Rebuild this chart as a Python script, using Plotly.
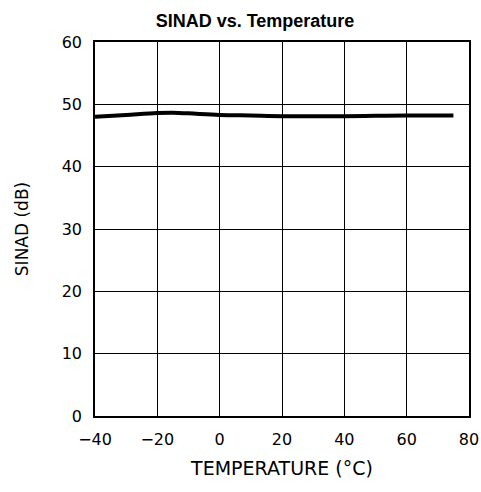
import plotly.graph_objects as go

temp_c = [-40, -30, -20, -15, -10, 0, 10, 20, 30, 40, 50, 60, 75]
sinad_db = [48.0, 48.3, 48.6, 48.65, 48.55, 48.3, 48.2, 48.1, 48.1, 48.1, 48.15, 48.2, 48.2]

x_ticks = [-40, -20, 0, 20, 40, 60, 80]
y_ticks = [0, 10, 20, 30, 40, 50, 60]

fig = go.Figure()
fig.add_trace(go.Scatter(x=temp_c, y=sinad_db, mode="lines",
                         line=dict(color="black", width=4, shape="spline"),
                         showlegend=False))

fig.update_layout(
    width=481, height=492,
    margin=dict(l=95, r=12, t=42, b=76, autoexpand=False),
    paper_bgcolor="white", plot_bgcolor="white",
    title=dict(text="<b>SINAD vs. Temperature</b>", x=255/481, xanchor="center",
               xref="container", y=1 - 21/492, yanchor="middle",
               font=dict(family="Liberation Sans, Arial", size=18, color="black")),
    font=dict(family="DejaVu Sans", size=16, color="black"),
)
fig.update_xaxes(range=[-40, 80], tickvals=x_ticks, ticks="outside", ticklen=8,
                 tickcolor="white", showgrid=True, automargin=False,
                 gridcolor="black", gridwidth=1.3, showline=True, linecolor="black",
                 linewidth=1.5, mirror=True, zeroline=False,
                 tickfont=dict(family="DejaVu Sans", size=16),
                 title=dict(text="TEMPERATURE (°C)", standoff=14,
                            font=dict(family="DejaVu Sans", size=19)))
fig.update_yaxes(range=[0, 60], tickvals=y_ticks, ticks="outside", ticklen=8,
                 tickcolor="white", showgrid=True, automargin=False,
                 gridcolor="black", gridwidth=1.3, showline=True, linecolor="black",
                 linewidth=1.5, mirror=True, zeroline=False,
                 tickfont=dict(family="DejaVu Sans", size=16),
                 title=dict(text="SINAD (dB)", standoff=29,
                            font=dict(family="DejaVu Sans", size=17)))

fig.write_html("out.html", config={"displayModeBar": False},
               post_script="document.body.style.margin='0';")
